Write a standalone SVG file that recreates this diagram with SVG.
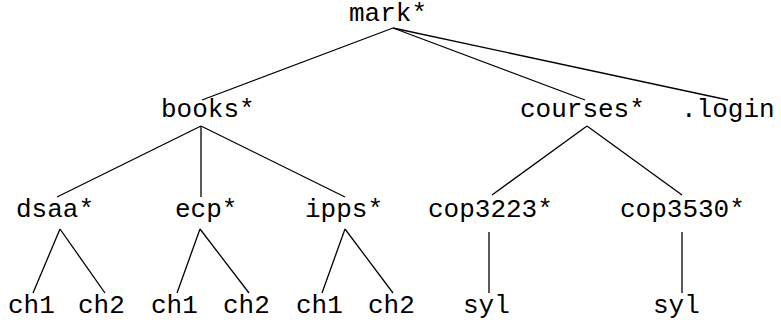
<svg xmlns="http://www.w3.org/2000/svg" width="781" height="325" viewBox="0 0 781 325">
<style>
text{font-family:"Liberation Mono","Courier New",monospace;font-size:26px;fill:#000}
.e line{stroke:#000;stroke-width:1.3;fill:none}
</style>
<rect width="781" height="325" fill="#fff"/>
<g class="e" id="connectors">
<line x1="393" y1="28" x2="202" y2="100"/>
<line x1="393" y1="28" x2="585" y2="100"/>
<line x1="393" y1="28" x2="728" y2="100"/>
<line x1="201" y1="126" x2="57" y2="197"/>
<line x1="201" y1="126" x2="201" y2="197"/>
<line x1="201" y1="126" x2="345" y2="197"/>
<line x1="587" y1="126" x2="492" y2="195"/>
<line x1="587" y1="126" x2="682" y2="195"/>
<line x1="60" y1="229" x2="33" y2="293"/>
<line x1="60" y1="229" x2="105" y2="293"/>
<line x1="200" y1="229" x2="177" y2="293"/>
<line x1="200" y1="229" x2="249" y2="293"/>
<line x1="345" y1="229" x2="322" y2="293"/>
<line x1="345" y1="229" x2="393" y2="293"/>
<line x1="489" y1="232" x2="489" y2="293"/>
<line x1="682" y1="232" x2="682" y2="293"/>
</g>
<g id="mark"><text x="349" y="21">mark*</text></g>
<g id="books"><text x="161" y="117">books*</text></g>
<g id="courses"><text x="520" y="117">courses*</text></g>
<g id="login"><text x="681" y="117">.login</text></g>
<g id="dsaa"><text x="16" y="217">dsaa*</text></g>
<g id="ecp"><text x="175" y="217">ecp*</text></g>
<g id="ipps"><text x="305" y="217">ipps*</text></g>
<g id="cop3223"><text x="428" y="217">cop3223*</text></g>
<g id="cop3530"><text x="620" y="217">cop3530*</text></g>
<g id="dsaa-ch1"><text x="8" y="313">ch1</text></g>
<g id="dsaa-ch2"><text x="78" y="313">ch2</text></g>
<g id="ecp-ch1"><text x="151" y="313">ch1</text></g>
<g id="ecp-ch2"><text x="223" y="313">ch2</text></g>
<g id="ipps-ch1"><text x="296" y="313">ch1</text></g>
<g id="ipps-ch2"><text x="368" y="313">ch2</text></g>
<g id="cop3223-syl"><text x="463" y="313">syl</text></g>
<g id="cop3530-syl"><text x="653" y="313">syl</text></g>
</svg>
